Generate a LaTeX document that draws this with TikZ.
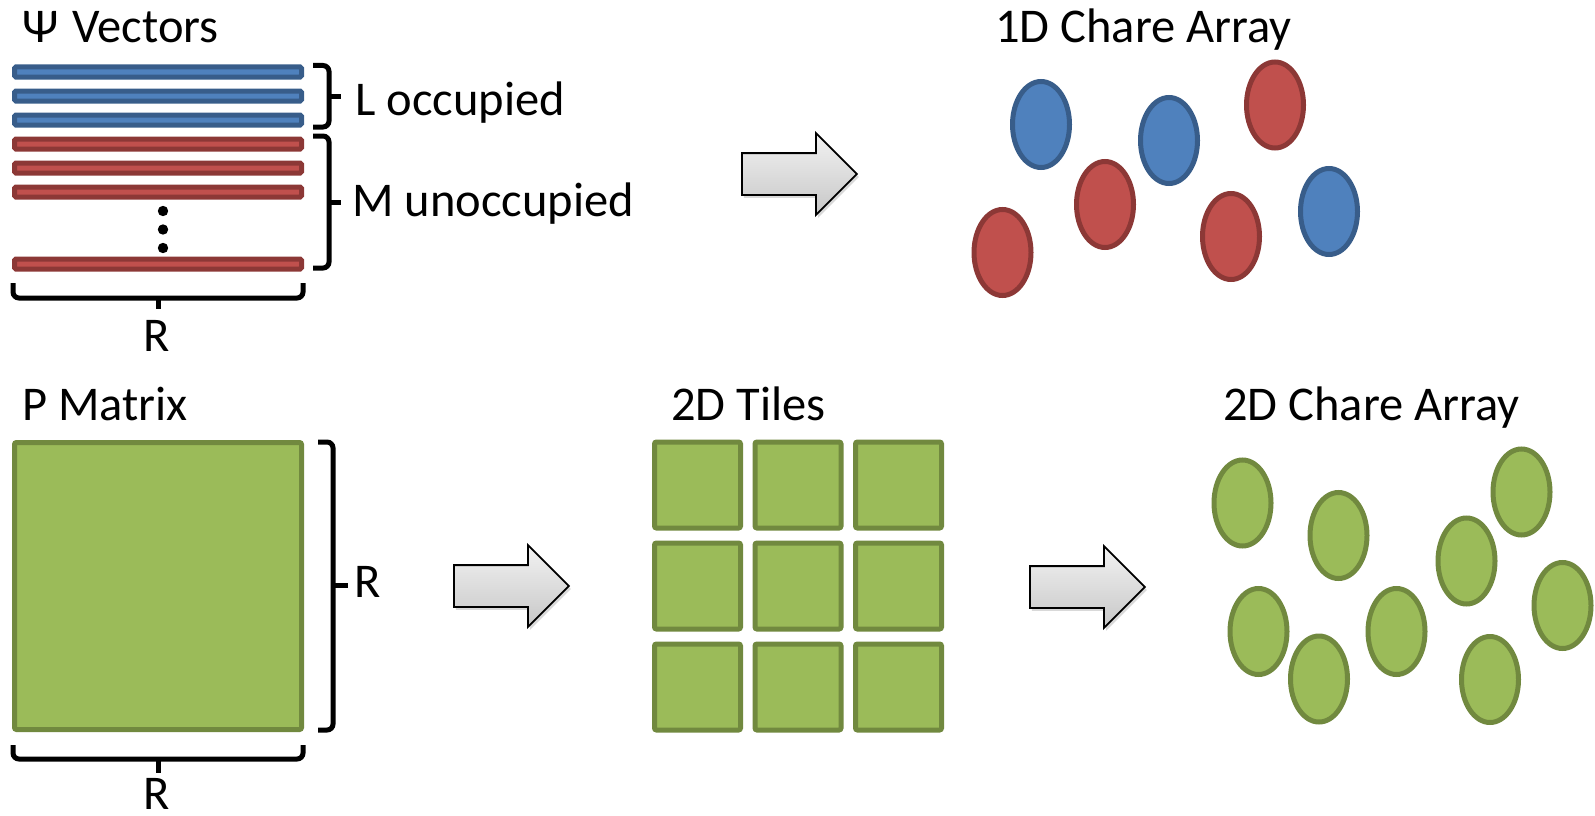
\documentclass[tikz,border=0pt]{standalone}
\usepackage{fontspec}
\setmainfont{Carlito}
\usetikzlibrary{shapes.geometric,shapes.arrows,shadows}
\definecolor{bfill}{HTML}{4F81BD}
\definecolor{bline}{HTML}{385D8A}
\definecolor{rfill}{HTML}{C0504D}
\definecolor{rline}{HTML}{8C3836}
\definecolor{gfill}{HTML}{9BBB59}
\definecolor{gline}{HTML}{71893F}
\tikzset{
  lbl/.style={font=\fontsize{48.5}{58}\selectfont, inner sep=0pt, anchor=base west},
  chare/.style={ellipse, minimum width=57pt, minimum height=86pt, inner sep=0pt, line width=5pt},
  bchare/.style={chare, fill=bfill, draw=bline},
  rchare/.style={chare, fill=rfill, draw=rline},
  gchare/.style={chare, fill=gfill, draw=gline},
  tile/.style={rectangle, minimum width=86pt, minimum height=86pt, inner sep=0pt, line width=5pt, rounded corners=2pt, fill=gfill, draw=gline},
  bbar/.style={line width=5pt, rounded corners=1.5pt, fill=bfill, draw=bline},
  rbar/.style={line width=5pt, rounded corners=1.5pt, fill=rfill, draw=rline},
  bracketline/.style={line width=5pt, rounded corners=6pt, draw=black},
  ticket/.style={line width=5pt, draw=black},
  blockarrow/.style={single arrow, anchor=tail, minimum height=115pt, minimum width=80pt,
     single arrow head extend=20pt, single arrow tip angle=90, inner xsep=0pt, inner ysep=20pt,
     draw=black, line width=1.8pt, top color=white!95!black, bottom color=black!22,
     drop shadow={opacity=0.3, shadow xshift=2pt, shadow yshift=-3pt}},
}
\begin{document}
\begin{tikzpicture}[x=1pt,y=-1pt]
\useasboundingbox (0,0) rectangle (1595,816);
% titles
\node[lbl] (tpsi) at (22,43) {Ψ\hspace{3pt} Vectors};
\node[lbl] (t1d) at (995,43) {1D Chare Array};
\node[lbl] (tp) at (22,420) {P Matrix};
\node[lbl] (ttiles) at (671,420) {2D Tiles};
\node[lbl] (t2d) at (1223,420) {2D Chare Array};
% vectors
\draw[bbar] (14.5,67) rectangle (301.5,77);
\draw[bbar] (14.5,91) rectangle (301.5,101);
\draw[bbar] (14.5,115) rectangle (301.5,125);
\draw[rbar] (14.5,139) rectangle (301.5,149);
\draw[rbar] (14.5,163) rectangle (301.5,173);
\draw[rbar] (14.5,187) rectangle (301.5,197);
\draw[rbar] (14.5,259) rectangle (301.5,269);
\fill (163,211) circle (5.2);
\fill (163,229.5) circle (5.2);
\fill (163,248) circle (5.2);
% braces for vectors
\draw[bracketline] (313,65.5) -- (329,65.5) -- (329,127) -- (313,127);
\draw[ticket] (329,96.5) -- (341,96.5);
\draw[bracketline] (313,136) -- (329,136) -- (329,268) -- (313,268);
\draw[ticket] (329,202) -- (341,202);
\draw[bracketline] (13,283) -- (13,298) -- (303,298) -- (303,283);
\draw[ticket] (158,298) -- (158,309);
\node[lbl] (locc) at (355,115) {L occupied};
\node[lbl] (munocc) at (352,216) {M unoccupied};
\node[lbl, anchor=base] (rvec) at (157,351) {R};
% P matrix
\draw[line width=5pt, rounded corners=2pt, fill=gfill, draw=gline] (14.5,442.5) rectangle (301.5,729.5);
\draw[bracketline] (318,442) -- (333,442) -- (333,730) -- (318,730);
\draw[ticket] (333,585) -- (348,585);
\draw[bracketline] (13,745) -- (13,759) -- (303,759) -- (303,745);
\draw[ticket] (158,759) -- (158,773);
\node[lbl] (rright) at (354,597) {R};
\node[lbl, anchor=base] (rbot) at (157,809) {R};
% arrows
\node[blockarrow] (a1) at (741,174) {};
\node[blockarrow] (a2) at (453,586) {};
\node[blockarrow] (a3) at (1029,587) {};
% tiles
\node[tile] (t11) at (697.5,485) {};
\node[tile] (t12) at (798,485) {};
\node[tile] (t13) at (898.5,485) {};
\node[tile] (t21) at (697.5,586) {};
\node[tile] (t22) at (798,586) {};
\node[tile] (t23) at (898.5,586) {};
\node[tile] (t31) at (697.5,687) {};
\node[tile] (t32) at (798,687) {};
\node[tile] (t33) at (898.5,687) {};
% 1D chares
\node[rchare] (c1) at (1002.5,252.5) {};
\node[rchare] (c2) at (1105,204.5) {};
\node[rchare] (c3) at (1231,236.5) {};
\node[rchare] (c4) at (1275,105) {};
\node[bchare] (c5) at (1041,124.5) {};
\node[bchare] (c6) at (1169,140.5) {};
\node[bchare] (c7) at (1329,211.5) {};
% 2D chares
\node[gchare] (g1) at (1242.5,503) {};
\node[gchare] (g2) at (1338.5,535.5) {};
\node[gchare] (g3) at (1466.5,561) {};
\node[gchare] (g4) at (1521.5,492) {};
\node[gchare] (g5) at (1258.5,631.5) {};
\node[gchare] (g6) at (1319,679) {};
\node[gchare] (g7) at (1396.5,631.5) {};
\node[gchare] (g8) at (1490,679.5) {};
\node[gchare] (g9) at (1562.5,605.5) {};
\end{tikzpicture}
\end{document}
